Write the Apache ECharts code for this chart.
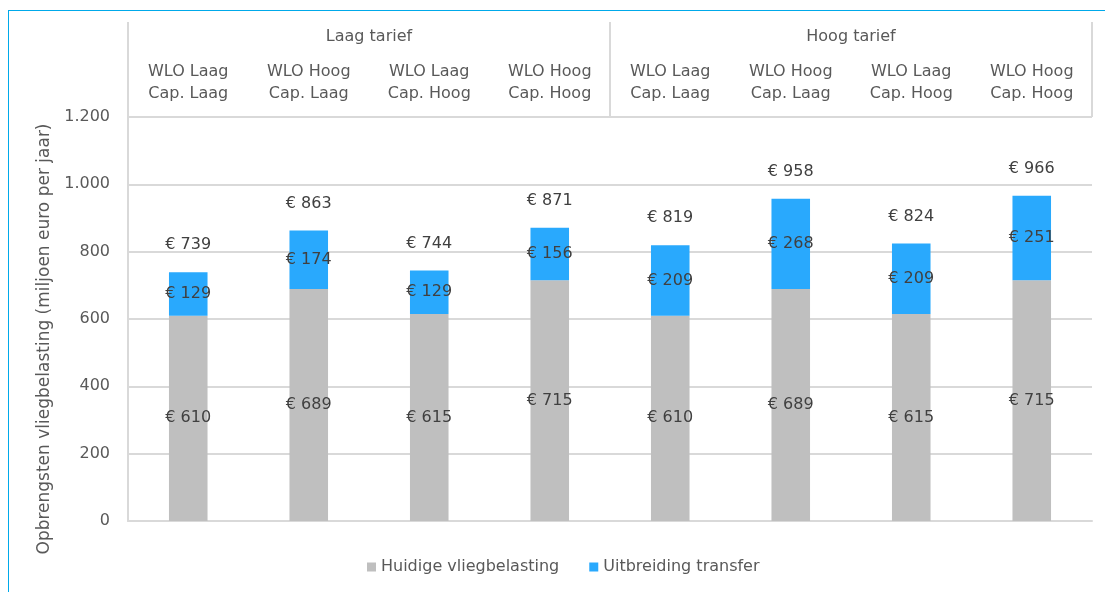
<!DOCTYPE html>
<html>
<head>
<meta charset="utf-8">
<script src="https://cdn.jsdelivr.net/npm/echarts@6/dist/echarts.min.js"></script>
<style>
  html,body{margin:0;padding:0;background:#fff;overflow:hidden;width:1105px;height:592px;}
  #lijnTop{position:absolute;left:8px;top:10px;width:1097px;height:1px;background:#00a9ea;}
  #lijnLinks{position:absolute;left:8px;top:10px;width:1px;height:582px;background:#00a9ea;}
  #main{position:absolute;left:0;top:0;width:1105px;height:592px;}
</style>
</head>
<body>
<div id="lijnTop"></div>
<div id="lijnLinks"></div>
<div id="main"></div>
<script>
// scenario's (kopregels)
var groepen = ['Laag tarief', 'Hoog tarief'];
var scenarios = ['WLO Laag\nCap. Laag', 'WLO Hoog\nCap. Laag', 'WLO Laag\nCap. Hoog', 'WLO Hoog\nCap. Hoog',
                 'WLO Laag\nCap. Laag', 'WLO Hoog\nCap. Laag', 'WLO Laag\nCap. Hoog', 'WLO Hoog\nCap. Hoog'];
// waarden (miljoen euro per jaar)
var huidig = [610, 689, 615, 715, 610, 689, 615, 715];
var transfer = [129, 174, 129, 156, 209, 268, 209, 251];
var totaal = [739, 863, 744, 871, 819, 958, 824, 966];
var yTicks = [0, 200, 400, 600, 800, 1000, 1200];

var tekst = '#595959';
var lijn = '#d9d9d9';
var font = 'DejaVu Sans';

function nlGetal(v){
	var s = String(v);
	return s.length > 3 ? s.slice(0, s.length - 3) + '.' + s.slice(-3) : s;
}
function euro(p){ return '€ ' + p.value; }

var myChart = echarts.init(document.getElementById('main'));
var option = {
	animation: false,
	textStyle: {fontFamily: font, color: tekst},
	grid: {left: 128, right: 13, top: 117, bottom: 71},
	legend: {
		data: ['Huidige vliegbelasting', 'Uitbreiding transfer'],
		left: 362, bottom: 12,
		itemWidth: 9, itemHeight: 9, itemGap: 30,
		icon: 'rect',
		textStyle: {fontFamily: font, fontSize: 16, color: tekst}
	},
	xAxis: [
		{
			type: 'category',
			position: 'bottom',
			data: scenarios,
			axisLine: {lineStyle: {color: lijn, width: 2}},
			axisTick: {show: false},
			axisLabel: {show: false}
		},
		{
			type: 'category',
			position: 'top',
			data: scenarios,
			axisLine: {show: false},
			axisTick: {show: false},
			axisLabel: {margin: 12, fontSize: 16, lineHeight: 22, color: tekst, fontFamily: font}
		},
		{
			type: 'category',
			position: 'top',
			data: groepen,
			axisLine: {show: false},
			axisTick: {show: true, length: 95, lineStyle: {color: lijn, width: 2}},
			axisLabel: {margin: 72, fontSize: 16, color: tekst, fontFamily: font}
		}
	],
	yAxis: {
		type: 'value',
		min: yTicks[0], max: yTicks[yTicks.length - 1], interval: 200,
		name: 'Opbrengsten vliegbelasting (miljoen euro per jaar)',
		nameLocation: 'middle',
		nameGap: 74,
		nameTextStyle: {fontSize: 17, color: tekst, fontFamily: font, padding: [0, 0, 0, -40]},
		axisLine: {show: true, lineStyle: {color: lijn, width: 2}},
		axisTick: {show: false},
		axisLabel: {margin: 18, fontSize: 16, color: tekst, fontFamily: font, formatter: function(v){ return nlGetal(v); }},
		splitLine: {lineStyle: {color: lijn, width: 2}}
	},
	series: [
		{
			name: 'Huidige vliegbelasting',
			type: 'bar',
			stack: 'tot',
			barWidth: '32%',
			itemStyle: {color: '#bfbfbf'},
			label: {show: true, position: 'inside', fontSize: 16, color: '#404040', fontFamily: font, formatter: euro},
			data: huidig
		},
		{
			name: 'Uitbreiding transfer',
			type: 'bar',
			stack: 'tot',
			barWidth: '32%',
			itemStyle: {color: '#29a9fd'},
			label: {show: true, position: 'inside', fontSize: 16, color: '#404040', fontFamily: font, formatter: euro},
			data: transfer
		},
		{
			name: 'Totaal',
			type: 'line',
			symbol: 'circle',
			symbolSize: 2,
			showSymbol: true,
			silent: true,
			itemStyle: {color: 'rgba(0,0,0,0)'},
			lineStyle: {width: 0, color: 'rgba(0,0,0,0)'},
			label: {show: true, position: 'top', distance: 18, fontSize: 16, color: '#404040', fontFamily: font, formatter: euro},
			data: totaal
		}
	]
};
myChart.setOption(option);
</script>
</body>
</html>
